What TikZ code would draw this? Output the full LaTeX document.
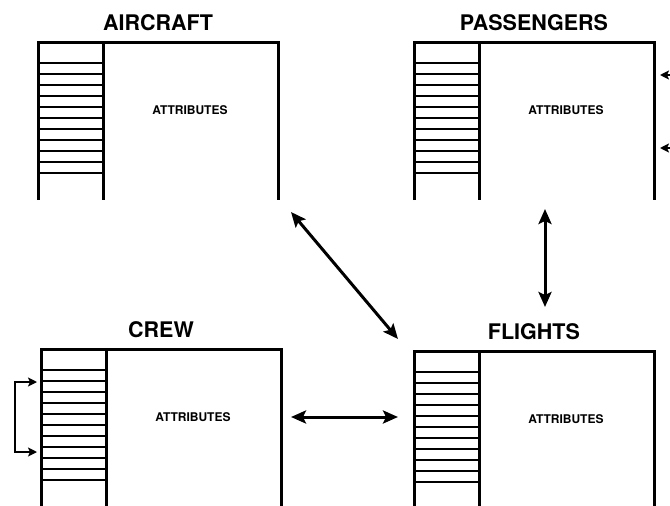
\documentclass[tikz,border=0pt]{standalone}
\usepackage{fontspec}
\setmainfont{TeX Gyre Heros}
\usetikzlibrary{arrows.meta, positioning}

\tikzset{
  frame/.style = {line width=3pt, line join=miter},
  rung/.style  = {line width=1.5pt},
  ttl/.style   = {font=\fontsize{21.5}{24}\selectfont\bfseries, inner sep=0pt},
  attr/.style  = {font=\fontsize{12}{14}\selectfont\bfseries, inner sep=0pt},
  link/.style  = {{Stealth[length=15pt,width=13pt,inset=3pt]}-{Stealth[length=15pt,width=13pt,inset=3pt]}, line width=3pt},
  feed/.style  = {-{Stealth[length=9pt,width=9pt,inset=2pt]}, line width=1.5pt},
}

% \tbl{name}{left}{top}{height}{title}
\newcommand{\tbl}[5]{%
  \coordinate (#1-tl) at (#2,#3);
  \coordinate (#1-tr) at (#2+240,#3);
  \coordinate (#1-bl) at (#2,#3+#4);
  \coordinate (#1-br) at (#2+240,#3+#4);
  \draw[frame] (#1-bl) -- (#1-tl) -- (#1-tr) -- (#1-br);
  \draw[frame] ([xshift=65pt]#1-tl) -- ([xshift=65pt]#1-bl);
  \foreach \i in {0,...,10}
    \draw[rung] (#2,{#3+21+11*\i}) -- ++(65,0);
  \node[ttl]  (#1)      at (#2+120,#3-19) {#5};
  \node[attr] (#1-attr) at (#2+152,#3+68) {ATTRIBUTES};
}

\begin{document}
\begin{tikzpicture}[x=1pt, y=-1pt]
  \fill[white] (0,0) rectangle (670,506);
  \useasboundingbox (0,0) rectangle (670,506);

  % -- tables --
  \tbl{aircraft}{38}{42}{158}{AIRCRAFT}
  \tbl{passengers}{414}{42}{158}{PASSENGERS}
  \tbl{crew}{41}{349}{160}{CREW}
  \tbl{flights}{414}{351}{160}{FLIGHTS}

  % -- arrow ends --
  \coordinate (af1) at (291,212);
  \coordinate (af2) at (398,339);
  \coordinate (pf1) at (545,209);
  \coordinate (pf2) at (545,307);
  \coordinate (cf1) at (291,417);
  \coordinate (cf2) at (398,417);

  % -- links between tables --
  \draw[link] (af1) -- (af2);
  \draw[link] (pf1) -- (pf2);
  \draw[link] (cf1) -- (cf2);

  % -- incoming to passengers --
  \coordinate (pin1) at (672,75);
  \coordinate (pin2) at (672,148);
  \coordinate (pa1) at (660,75);
  \coordinate (pa2) at (660,148);
  \draw[feed] (pin1) -- (pa1);
  \draw[feed] (pin2) -- (pa2);

  % -- crew self link --
  \coordinate (cb1) at (37,382);
  \coordinate (cb2) at (37,452);
  \draw[feed, {Stealth[length=9pt,width=9pt,inset=2pt]}-{Stealth[length=9pt,width=9pt,inset=2pt]}] (cb1) -- ++(-22,0) |- (cb2);
\end{tikzpicture}
\end{document}
